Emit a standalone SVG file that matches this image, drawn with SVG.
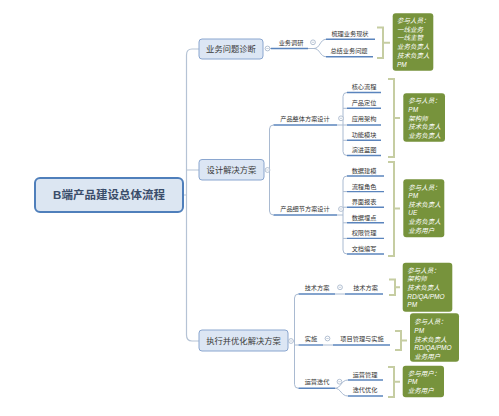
<svg xmlns="http://www.w3.org/2000/svg" width="499" height="416" viewBox="0 0 499 416">
<defs>
<style>
text{font-family:"Liberation Sans","Noto Sans CJK SC",sans-serif}
.root-box{fill:#dce6f2;stroke:#4f7fbb;stroke-width:2}
.root-t{font-size:11.5px;font-weight:bold;fill:#3a4d6a;text-anchor:middle}
.l1-box{fill:#dce6f4;stroke:#8aa6cf;stroke-width:1}
.l1-t{font-size:8.3px;fill:#3a3a3a;text-anchor:middle}
.l2-t{font-size:6.2px;fill:#333;text-anchor:middle}
.ul{stroke:#5a84bd;stroke-width:1.4;fill:none}
.con{stroke:#a9bad1;stroke-width:1;fill:none}
.trunk{stroke:#b5c3d5;stroke-width:1.2;fill:none}
.tog{fill:#fff;stroke:#9fb0c6;stroke-width:0.8}
.brk{stroke:#c6cda2;stroke-width:2;fill:none}
.note-box{fill:#77933c}
.note-t{font-size:6.5px;font-style:italic;fill:#fff}
</style>
<symbol id="tg" overflow="visible"><circle class="tog" cx="0" cy="0" r="2.4"/><line x1="-1.2" y1="0" x2="1.2" y2="0" stroke="#9fb0c6" stroke-width="0.6"/></symbol>
</defs>
<rect width="499" height="416" fill="#fff"/>

<g id="connectors">
<!-- trunk -->
<path class="trunk" d="M199,49 H192 Q186.5,49 186.5,55 V335 Q186.5,341 192,341 H199"/>
<path class="trunk" d="M183,195 H186.5 M186.5,170 H199"/>
<!-- n1 branch -->
<path class="con" d="M270,48.5 H271"/>
<path class="con" d="M308,48.5 H314 C320,48.5 320,39.3 326,39.3 M314,48.5 C320,48.5 320,56.7 326,56.7"/>
<!-- n2 branch -->
<path class="con" d="M269.5,170 H270 M269.5,129 Q269.5,125 273.5,125 M269.5,129 V211 Q269.5,215 273.5,215"/>
<path class="con" d="M337,125 H347 M343,125 V96.5 Q343,92.5 347,92.5 M343,108.3 H347 M343,125 V151.5 Q343,155.5 347,155.5 M343,140.3 H347"/>
<path class="con" d="M337,215 H343 M343,215 V180 Q343,176 347,176 M343,191.6 H347 M343,207.2 H347 M343,222.8 H347 M343,238.4 H347 M343,215 V250 Q343,254 347,254"/>
<!-- n3 branch -->
<path class="con" d="M293.5,341 H294.5 M294.5,298 Q294.5,294 298.5,294 M294.5,298 V384.3 Q294.5,388.3 298.5,388.3 M294.5,345 H298.5"/>
<path class="con" d="M335,294 H345 M323,345 H333"/>
<path class="con" d="M335,388.3 C341,388.3 341,380 348,380 M335,388.3 C341,388.3 341,396 348,396"/>
</g>

<g id="root">
<rect class="root-box" x="35" y="178" width="148" height="34" rx="5"/>
<text class="root-t" x="109" y="199.4">B端产品建设总体流程</text>
</g>

<g id="n1">
<rect class="l1-box" x="199" y="39" width="64" height="20" rx="3"/>
<text class="l1-t" x="231" y="52.1">业务问题诊断</text>
<use href="#tg" x="267.5" y="48.5"/>
</g>
<g id="n2">
<rect class="l1-box" x="199" y="159.5" width="65" height="20.5" rx="3"/>
<text class="l1-t" x="231.5" y="172.7">设计解决方案</text>
<use href="#tg" x="267.5" y="170"/>
</g>
<g id="n3">
<rect class="l1-box" x="199" y="330" width="89" height="21" rx="3"/>
<text class="l1-t" x="243.5" y="343.6">执行并优化解决方案</text>
<use href="#tg" x="291" y="341"/>
</g>

<!-- level 2 / 3 of n1 -->
<g id="n1-research">
<text class="l2-t" x="291" y="44.7">业务调研</text>
<line class="ul" x1="271" y1="48.5" x2="308" y2="48.5"/>
<use href="#tg" x="313" y="42.3"/>
</g>
<g id="n1-a"><text class="l2-t" x="350" y="36.4">梳理业务现状</text><line class="ul" x1="326" y1="39.3" x2="375" y2="39.3"/></g>
<g id="n1-b"><text class="l2-t" x="349" y="52.9">总结业务问题</text><line class="ul" x1="326" y1="56.7" x2="373" y2="56.7"/></g>

<!-- n2 children -->
<g id="n2-overall">
<text class="l2-t" x="305" y="120.7">产品整体方案设计</text>
<line class="ul" x1="273.5" y1="125" x2="337" y2="125"/>
<use href="#tg" x="341" y="118.3"/>
</g>
<g id="o1"><text class="l2-t" x="364" y="89.4">核心流程</text><line class="ul" x1="347" y1="92.5" x2="381" y2="92.5"/></g>
<g id="o2"><text class="l2-t" x="364" y="105.2">产品定位</text><line class="ul" x1="347" y1="108.3" x2="381" y2="108.3"/></g>
<g id="o3"><text class="l2-t" x="364" y="121.4">应用架构</text><line class="ul" x1="347" y1="125" x2="381" y2="125"/></g>
<g id="o4"><text class="l2-t" x="364" y="137.2">功能模块</text><line class="ul" x1="347" y1="140.3" x2="381" y2="140.3"/></g>
<g id="o5"><text class="l2-t" x="364" y="152.4">演进蓝图</text><line class="ul" x1="347" y1="155.5" x2="381" y2="155.5"/></g>

<g id="n2-detail">
<text class="l2-t" x="305" y="211.4">产品细节方案设计</text>
<line class="ul" x1="273.5" y1="215" x2="337" y2="215"/>
<use href="#tg" x="341" y="209"/>
</g>
<g id="d1"><text class="l2-t" x="364" y="172.9">数据建模</text><line class="ul" x1="347" y1="176" x2="384" y2="176"/></g>
<g id="d2"><text class="l2-t" x="364" y="188.5">流程角色</text><line class="ul" x1="347" y1="191.6" x2="384" y2="191.6"/></g>
<g id="d3"><text class="l2-t" x="364" y="204.1">界面报表</text><line class="ul" x1="347" y1="207.2" x2="384" y2="207.2"/></g>
<g id="d4"><text class="l2-t" x="364" y="219.7">数据埋点</text><line class="ul" x1="347" y1="222.8" x2="384" y2="222.8"/></g>
<g id="d5"><text class="l2-t" x="364" y="235.3">权限管理</text><line class="ul" x1="347" y1="238.4" x2="384" y2="238.4"/></g>
<g id="d6"><text class="l2-t" x="364" y="250.9">文档编写</text><line class="ul" x1="347" y1="254" x2="384" y2="254"/></g>

<!-- n3 children -->
<g id="n3-tech">
<text class="l2-t" x="317" y="289.7">技术方案</text>
<line class="ul" x1="298.5" y1="294" x2="335" y2="294"/>
<use href="#tg" x="340" y="287.3"/>
</g>
<g id="t1"><text class="l2-t" x="365.5" y="289.7">技术方案</text><line class="ul" x1="345" y1="294" x2="383" y2="294"/></g>
<g id="n3-impl">
<text class="l2-t" x="311" y="340.9">实施</text>
<line class="ul" x1="298.5" y1="345" x2="323" y2="345"/>
<use href="#tg" x="327.5" y="338.5"/>
</g>
<g id="i1"><text class="l2-t" x="362" y="340.9">项目管理与实施</text><line class="ul" x1="333" y1="345" x2="390" y2="345"/></g>
<g id="n3-ops">
<text class="l2-t" x="317" y="384.1">运营迭代</text>
<line class="ul" x1="298.5" y1="388.3" x2="335" y2="388.3"/>
<use href="#tg" x="339.5" y="381.7"/>
</g>
<g id="p1"><text class="l2-t" x="365" y="376.7">运营管理</text><line class="ul" x1="348" y1="380" x2="383" y2="380"/></g>
<g id="p2"><text class="l2-t" x="365" y="391.9">迭代优化</text><line class="ul" x1="348" y1="396" x2="383" y2="396"/></g>

<!-- brackets -->
<g id="brackets">
<path class="brk" d="M377,27.5 H383 V58 H377 M383,42.7 H390"/>
<path class="brk" d="M388,79 H394 V157 H388 M394,118 H400"/>
<path class="brk" d="M388,162 H394 V256 H388 M394,208.5 H400"/>
<path class="brk" d="M389,279.5 H395 V295 H389 M395,287.3 H400"/>
<path class="brk" d="M395,331 H401 V350 H395 M401,340.5 H407"/>
<path class="brk" d="M388,367 H394 V397 H388 M394,381.7 H400"/>
</g>

<!-- notes -->
<g id="note1">
<rect class="note-box" x="392.7" y="13.3" width="40.6" height="57.4" rx="3"/>
<text class="note-t" x="397" y="23">参与人员：</text>
<text class="note-t" x="397" y="31.7">一线业务</text>
<text class="note-t" x="397" y="40.4">一线主管</text>
<text class="note-t" x="397" y="49.1">业务负责人</text>
<text class="note-t" x="397" y="57.8">技术负责人</text>
<text class="note-t" x="397" y="66.5">PM</text>
</g>
<g id="note2">
<rect class="note-box" x="403.3" y="93.3" width="41.7" height="48.4" rx="3"/>
<text class="note-t" x="408.3" y="103">参与人员：</text>
<text class="note-t" x="408.3" y="111.8">PM</text>
<text class="note-t" x="408.3" y="120.6">架构师</text>
<text class="note-t" x="408.3" y="129.4">技术负责人</text>
<text class="note-t" x="408.3" y="138.2">业务负责人</text>
</g>
<g id="note3">
<rect class="note-box" x="403.3" y="179.3" width="41" height="58" rx="3"/>
<text class="note-t" x="408.3" y="189.5">参与人员：</text>
<text class="note-t" x="408.3" y="198.1">PM</text>
<text class="note-t" x="408.3" y="206.7">技术负责人</text>
<text class="note-t" x="408.3" y="215.3">UE</text>
<text class="note-t" x="408.3" y="223.9">业务负责人</text>
<text class="note-t" x="408.3" y="232.5">业务用户</text>
</g>
<g id="note4">
<rect class="note-box" x="402.7" y="262.7" width="49.6" height="49" rx="3"/>
<text class="note-t" x="407.3" y="272.5">参与人员：</text>
<text class="note-t" x="407.3" y="281.2">架构师</text>
<text class="note-t" x="407.3" y="289.9">技术负责人</text>
<text class="note-t" x="407.3" y="298.6">RD/QA/PMO</text>
<text class="note-t" x="407.3" y="307.3">PM</text>
</g>
<g id="note5">
<rect class="note-box" x="410" y="313.3" width="49" height="48.4" rx="3"/>
<text class="note-t" x="414.3" y="324.2">参与人员：</text>
<text class="note-t" x="414.3" y="333">PM</text>
<text class="note-t" x="414.3" y="341.7">技术负责人</text>
<text class="note-t" x="414.3" y="350.4">RD/QA/PMO</text>
<text class="note-t" x="414.3" y="359.1">业务用户</text>
</g>
<g id="note6">
<rect class="note-box" x="402.7" y="365.7" width="41.3" height="31.6" rx="3"/>
<text class="note-t" x="407.7" y="375.8">参与用户：</text>
<text class="note-t" x="407.7" y="384.2">PM</text>
<text class="note-t" x="407.7" y="392.5">业务用户</text>
</g>
</svg>
